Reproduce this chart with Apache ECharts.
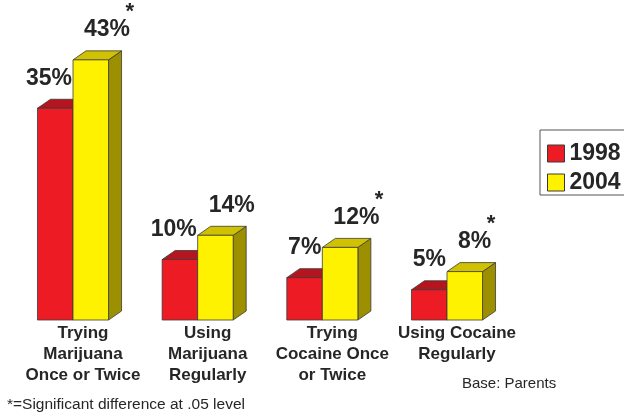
<!DOCTYPE html>
<html>
<head>
<meta charset="utf-8">
<script src="https://cdn.jsdelivr.net/npm/echarts@6/dist/echarts.min.js"></script>
<style>
  html, body { margin: 0; padding: 0; background: #ffffff; }
  #chart { width: 624px; height: 414px; }
</style>
</head>
<body>
<div id="chart"></div>
<script>
// Survey answers, percent of parents
const categories = [
  'Trying\nMarijuana\nOnce or Twice',
  'Using\nMarijuana\nRegularly',
  'Trying\nCocaine Once\nor Twice',
  'Using Cocaine\nRegularly'
];
const seriesNames = ['1998', '2004'];
const values1998 = [35, 10, 7, 5];
const values2004 = [43, 14, 12, 8];
// significant difference at .05 level (marked with *)
const significant2004 = [true, false, true, true];

const FONT = "'Liberation Sans', Arial, Helvetica, sans-serif";
const TEXT_COLOR = '#262626';
const DEPTH_X = 13, DEPTH_Y = -9;   // extrusion of the pseudo-3D boxes
const BAR_FRAC = 0.285;             // bar width as share of a category band

const RED = { front: '#ED1C24', top: '#B5151F', side: '#8E1018' };
const YELLOW = { front: '#FFF200', top: '#D0C200', side: '#9C9000' };

// Draws one extruded box per category; slot -1 = left of centre, 0 = right of centre
function makeBox(colors, slot, labelAlign) {
  return function (params, api) {
    const cat = api.value(0);
    const val = api.value(1);
    const sig = api.value(2) === 1;
    const base = api.coord([cat, 0]);
    const top = api.coord([cat, val]);
    const band = api.size([1, 0])[0];
    const w = band * BAR_FRAC;
    const x0 = base[0] + slot * w;
    const x1 = x0 + w;
    const yb = base[1];
    const yt = top[1];
    const edge = { stroke: '#3a3a3a', lineWidth: 0.8, lineJoin: 'round' };

    const labelText = sig
      ? '{s|*}\n{v|' + val + '%}{g| }'
      : '{v|' + val + '%}';

    return {
      type: 'group',
      children: [
        {
          type: 'polygon',
          shape: { points: [[x1, yt], [x1 + DEPTH_X, yt + DEPTH_Y], [x1 + DEPTH_X, yb + DEPTH_Y], [x1, yb]] },
          style: Object.assign({ fill: colors.side }, edge)
        },
        {
          type: 'polygon',
          shape: { points: [[x0, yt], [x0 + DEPTH_X, yt + DEPTH_Y], [x1 + DEPTH_X, yt + DEPTH_Y], [x1, yt]] },
          style: Object.assign({ fill: colors.top }, edge)
        },
        {
          type: 'rect',
          shape: { x: x0, y: yt, width: w, height: yb - yt },
          style: Object.assign({ fill: colors.front }, edge)
        },
        {
          type: 'text',
          style: {
            text: labelText,
            x: labelAlign === 'right' ? x1 - 1 : x0 + 11,
            y: yt - 18.5,
            align: labelAlign,
            verticalAlign: 'bottom',
            fill: TEXT_COLOR,
            rich: {
              v: { fontSize: 23, fontWeight: 'bold', fontFamily: FONT, lineHeight: 23, fill: TEXT_COLOR },
              g: { fontSize: 23, fontFamily: FONT, lineHeight: 23, width: 4, fill: 'rgba(0,0,0,0)' },
              s: { fontSize: 22, fontWeight: 'bold', fontFamily: FONT, lineHeight: 12, align: 'right', fill: TEXT_COLOR }
            }
          }
        }
      ]
    };
  };
}

const data1998 = values1998.map((v, i) => [i, v, 0]);
const data2004 = values2004.map((v, i) => [i, v, significant2004[i] ? 1 : 0]);

const chart = echarts.init(document.getElementById('chart'), null, { renderer: 'canvas' });

chart.setOption({
  backgroundColor: '#ffffff',
  animation: false,
  grid: { left: 10.67, width: 498.67, top: 17.5, height: 302.5 },
  xAxis: {
    type: 'category',
    data: categories,
    axisLine: { show: false },
    axisTick: { show: false },
    axisLabel: {
      interval: 0,
      margin: 3,
      fontSize: 17,
      fontWeight: 'bold',
      fontFamily: FONT,
      lineHeight: 21,
      color: TEXT_COLOR,
      padding: [0, 0, 0, 20]
    }
  },
  yAxis: {
    type: 'value',
    min: 0,
    max: 50,
    show: false,
    splitLine: { show: false }
  },
  legend: {
    orient: 'vertical',
    left: 540,
    top: 130,
    padding: [12, 4, 1, 7],
    itemGap: 6,
    itemWidth: 17,
    itemHeight: 17,
    icon: 'rect',
    borderColor: '#555555',
    borderWidth: 1,
    backgroundColor: '#ffffff',
    textStyle: { fontSize: 23, fontWeight: 'bold', fontFamily: FONT, color: TEXT_COLOR, lineHeight: 23 },
    data: [
      { name: seriesNames[0], itemStyle: { color: RED.front, borderColor: '#3a3a3a', borderWidth: 1 } },
      { name: seriesNames[1], itemStyle: { color: YELLOW.front, borderColor: '#3a3a3a', borderWidth: 1 } }
    ]
  },
  series: [
    {
      name: seriesNames[0],
      type: 'custom',
      clip: false,
      itemStyle: { color: RED.front },
      renderItem: makeBox(RED, -1, 'right'),
      encode: { x: 0, y: 1 },
      data: data1998
    },
    {
      name: seriesNames[1],
      type: 'custom',
      clip: false,
      itemStyle: { color: YELLOW.front },
      renderItem: makeBox(YELLOW, 0, 'left'),
      encode: { x: 0, y: 1 },
      data: data2004
    }
  ],
  graphic: [
    {
      type: 'text',
      left: 7,
      top: 397,
      style: { text: '*=Significant difference at .05 level', font: '15.5px ' + FONT, fill: TEXT_COLOR }
    },
    {
      type: 'text',
      left: 462,
      top: 376,
      style: { text: 'Base: Parents', font: '15px ' + FONT, fill: TEXT_COLOR }
    }
  ]
});
</script>
</body>
</html>
